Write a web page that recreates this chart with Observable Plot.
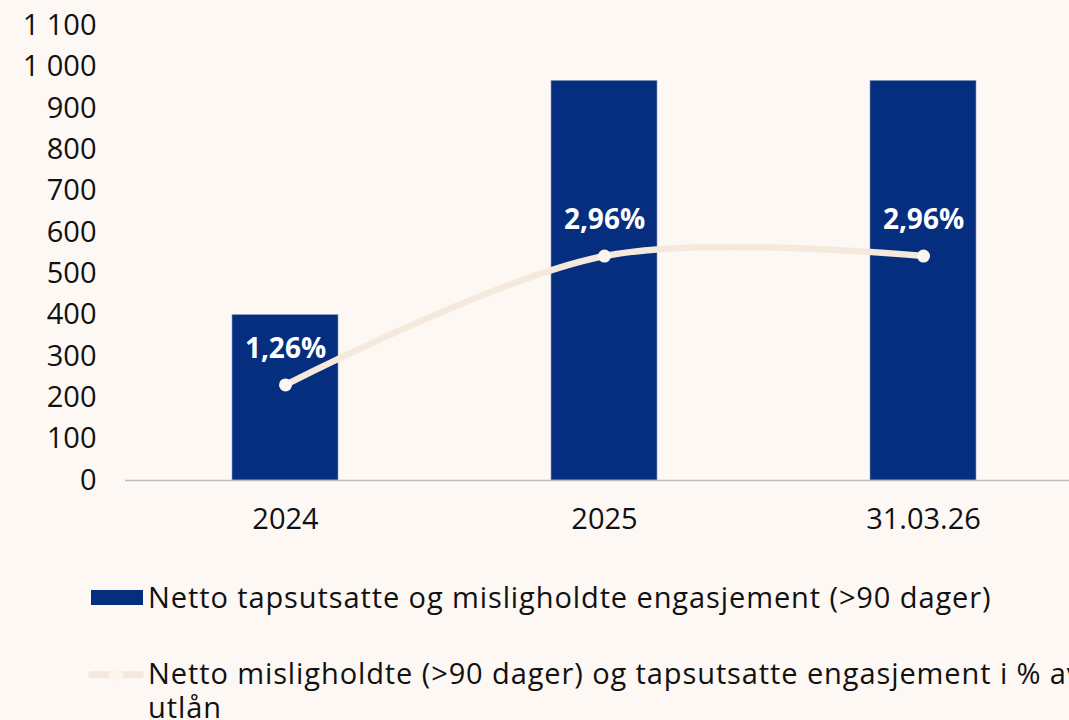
<!DOCTYPE html>
<html>
<head>
<meta charset="utf-8">
<script src="https://cdn.jsdelivr.net/npm/d3@7"></script>
<script src="https://cdn.jsdelivr.net/npm/@observablehq/plot@0.6"></script>
<style>
  html, body { margin: 0; padding: 0; background: #fdf8f4; overflow: hidden; width: 1069px; height: 720px; }
  #wrap { position: relative; width: 1069px; height: 720px; overflow: hidden; }
  #chart { position: absolute; left: 0; top: 0; width: 1084px; }
  .legend { position: absolute; font-family: "Open Sans", sans-serif; font-size: 29px; letter-spacing: 0.9px; color: #111; line-height: 34px; }
  .sw-bar { position: absolute; left: 91px; top: 590px; width: 52px; height: 15px; background: #062e7f; }
  .sw-line { position: absolute; left: 88px; top: 671px; width: 56px; height: 7px; background: #f5e9dd; border-radius: 4px; }
  .sw-dot { position: absolute; left: 109px; top: 667px; width: 14px; height: 14px; background: #fdf6ef; border-radius: 50%; }
</style>
</head>
<body>
<div id="wrap">
  <div id="chart"></div>
  <div class="sw-bar"></div>
  <div class="legend" id="leg1" style="left:148px; top:580px; white-space:nowrap;"></div>
  <div class="sw-line"></div>
  <div class="sw-dot"></div>
  <div class="legend" id="leg2" style="left:148px; top:656px; width:960px;"></div>
</div>
<script>
const categories = ["2024", "2025", "31.03.26"];
const barValues = [400, 966, 966];          // Netto tapsutsatte og misligholdte engasjement
const pctValues = [1.26, 2.96, 2.96];       // i % av utlån (secondary axis 0–6 %)
const pctLabels = ["1,26%", "2,96%", "2,96%"];
const yTicks = [0, 100, 200, 300, 400, 500, 600, 700, 800, 900, 1000, 1100];
const seriesNames = [
  "Netto tapsutsatte og misligholdte engasjement (>90 dager)",
  "Netto misligholdte (>90 dager) og tapsutsatte engasjement i % av utlån"
];
const primaryMax = 1100, secondaryMax = 6;

const data = categories.map((c, i) => ({
  cat: c, bar: barValues[i], pct: pctValues[i], label: pctLabels[i],
  pctOnPrimary: pctValues[i] * primaryMax / secondaryMax
}));

const fmt = d => d3.format(",")(d).replace(/,/g, " ");

const chart = Plot.plot({
  width: 1084,
  height: 555,
  marginLeft: 125,
  marginRight: 0,
  marginTop: 25,
  marginBottom: 75,
  style: { background: "transparent", fontFamily: "'Open Sans', sans-serif", fontSize: "29px", color: "#111", maxWidth: "none" },
  x: { domain: categories, paddingInner: 0.667, paddingOuter: 0.3335, label: null },
  y: { domain: [0, primaryMax], label: null },
  marks: [
    Plot.axisY({ ticks: yTicks, tickFormat: fmt, tickSize: 0, tickPadding: 29, fontSize: 29, label: null }),
    Plot.axisX({ tickSize: 0, tickPadding: 28, fontSize: 29, label: null }),
    Plot.barY(data, { x: "cat", y: "bar", fill: "#062e7f", stroke: "#8a9cc4", strokeWidth: 0.6 }),
    Plot.ruleY([0], { stroke: "#bdbdbd", strokeWidth: 1.5 }),
    Plot.line(data, { x: "cat", y: "pctOnPrimary", stroke: "#f5e9dd", strokeWidth: 6.5, curve: "catmull-rom" }),
    Plot.dot(data, { x: "cat", y: "pctOnPrimary", r: 6.5, fill: "#fdf6ef", stroke: "none" }),
    Plot.text(data, { x: "cat", y: "pctOnPrimary", text: "label", dy: -36, fill: "white", fontWeight: "bold", fontSize: 28 })
  ]
});
document.getElementById("chart").appendChild(chart);
document.getElementById("leg1").textContent = seriesNames[0];
document.getElementById("leg2").textContent = seriesNames[1];
</script>
</body>
</html>
